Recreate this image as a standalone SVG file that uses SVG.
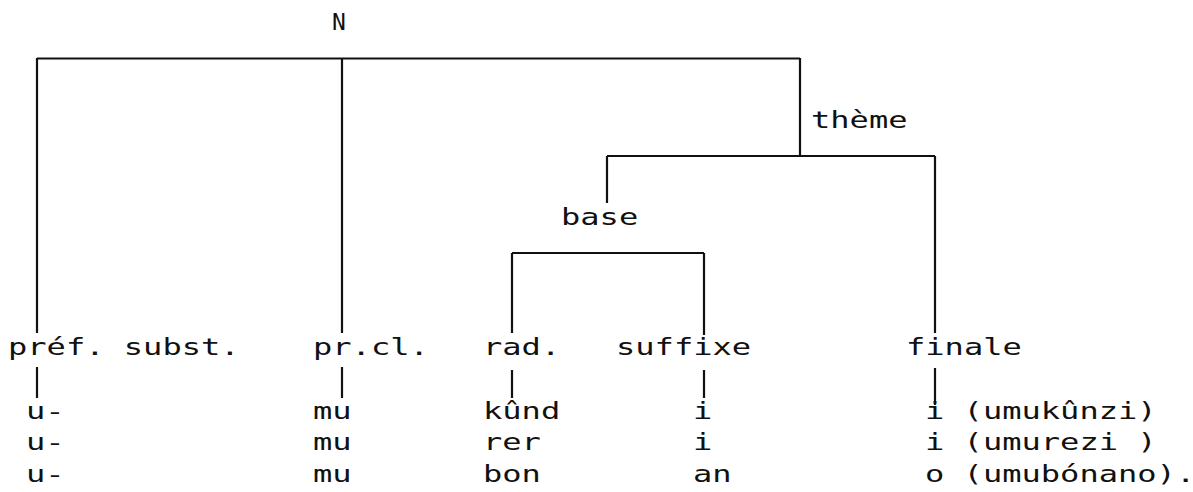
<svg xmlns="http://www.w3.org/2000/svg" width="1193" height="492" viewBox="0 0 1193 492">
<style>
  .t { font-family: "DejaVu Sans Mono", "Liberation Mono", monospace; font-size: 23px; fill: #111; }
  .h { stroke: #111; stroke-width: 2; fill: none; }
  .v { stroke: #111; stroke-width: 2.2; fill: none; }
</style>
<rect width="1193" height="492" fill="#fff"/>
<g id="connectors">
  <line class="h" x1="37" y1="58.5" x2="800" y2="58.5"/>
  <line class="v" x1="37" y1="58" x2="37" y2="333"/>
  <line class="v" x1="342" y1="58" x2="342" y2="333"/>
  <line class="v" x1="800" y1="58" x2="800" y2="156"/>
  <line class="h" x1="607" y1="156" x2="935" y2="156"/>
  <line class="v" x1="607" y1="156" x2="607" y2="203"/>
  <line class="v" x1="935" y1="156" x2="935" y2="333"/>
  <line class="h" x1="512" y1="253" x2="704" y2="253"/>
  <line class="v" x1="512" y1="253" x2="512" y2="333"/>
  <line class="v" x1="704" y1="253" x2="704" y2="335"/>
  <line class="v" x1="37" y1="367" x2="37" y2="398"/>
  <line class="v" x1="342" y1="367" x2="342" y2="398"/>
  <line class="v" x1="512" y1="370" x2="512" y2="398"/>
  <line class="v" x1="704" y1="370" x2="704" y2="398"/>
  <line class="v" x1="935" y1="368" x2="935" y2="405"/>
</g>
<g id="node-N"><text class="t" x="332" y="30">N</text></g>
<g id="node-theme"><text class="t" x="811" y="128" textLength="96.5" lengthAdjust="spacingAndGlyphs">thème</text></g>
<g id="node-base"><text class="t" x="561" y="225" textLength="77.2" lengthAdjust="spacingAndGlyphs">base</text></g>
<g id="node-pref"><text class="t" x="8" y="355" textLength="231.6" lengthAdjust="spacingAndGlyphs">préf. subst.</text></g>
<g id="node-prcl"><text class="t" x="313" y="355" textLength="115.8" lengthAdjust="spacingAndGlyphs">pr.cl.</text></g>
<g id="node-rad"><text class="t" x="483" y="355" textLength="77.2" lengthAdjust="spacingAndGlyphs">rad.</text></g>
<g id="node-suffixe"><text class="t" x="616" y="355" textLength="135.1" lengthAdjust="spacingAndGlyphs">suffixe</text></g>
<g id="node-finale"><text class="t" x="906" y="355" textLength="115.8" lengthAdjust="spacingAndGlyphs">finale</text></g>
<g id="data-pref">
  <text class="t" x="26" y="419" textLength="38.6" lengthAdjust="spacingAndGlyphs">u-</text>
  <text class="t" x="26" y="450" textLength="38.6" lengthAdjust="spacingAndGlyphs">u-</text>
  <text class="t" x="26" y="482" textLength="38.6" lengthAdjust="spacingAndGlyphs">u-</text>
</g>
<g id="data-prcl">
  <text class="t" x="313" y="419" textLength="38.6" lengthAdjust="spacingAndGlyphs">mu</text>
  <text class="t" x="313" y="450" textLength="38.6" lengthAdjust="spacingAndGlyphs">mu</text>
  <text class="t" x="313" y="482" textLength="38.6" lengthAdjust="spacingAndGlyphs">mu</text>
</g>
<g id="data-rad">
  <text class="t" x="483" y="419" textLength="77.2" lengthAdjust="spacingAndGlyphs">kûnd</text>
  <text class="t" x="483" y="450" textLength="57.9" lengthAdjust="spacingAndGlyphs">rer</text>
  <text class="t" x="483" y="482" textLength="57.9" lengthAdjust="spacingAndGlyphs">bon</text>
</g>
<g id="data-suffixe">
  <text class="t" x="693" y="419" textLength="19.3" lengthAdjust="spacingAndGlyphs">i</text>
  <text class="t" x="693" y="450" textLength="19.3" lengthAdjust="spacingAndGlyphs">i</text>
  <text class="t" x="693" y="482" textLength="38.6" lengthAdjust="spacingAndGlyphs">an</text>
</g>
<g id="data-finale">
  <text class="t" x="925" y="419" textLength="231.6" lengthAdjust="spacingAndGlyphs">i (umukûnzi)</text>
  <text class="t" x="925" y="450" textLength="231.6" lengthAdjust="spacingAndGlyphs">i (umurezi )</text>
  <text class="t" x="925" y="482" textLength="270.2" lengthAdjust="spacingAndGlyphs">o (umubónano).</text>
</g>
</svg>
